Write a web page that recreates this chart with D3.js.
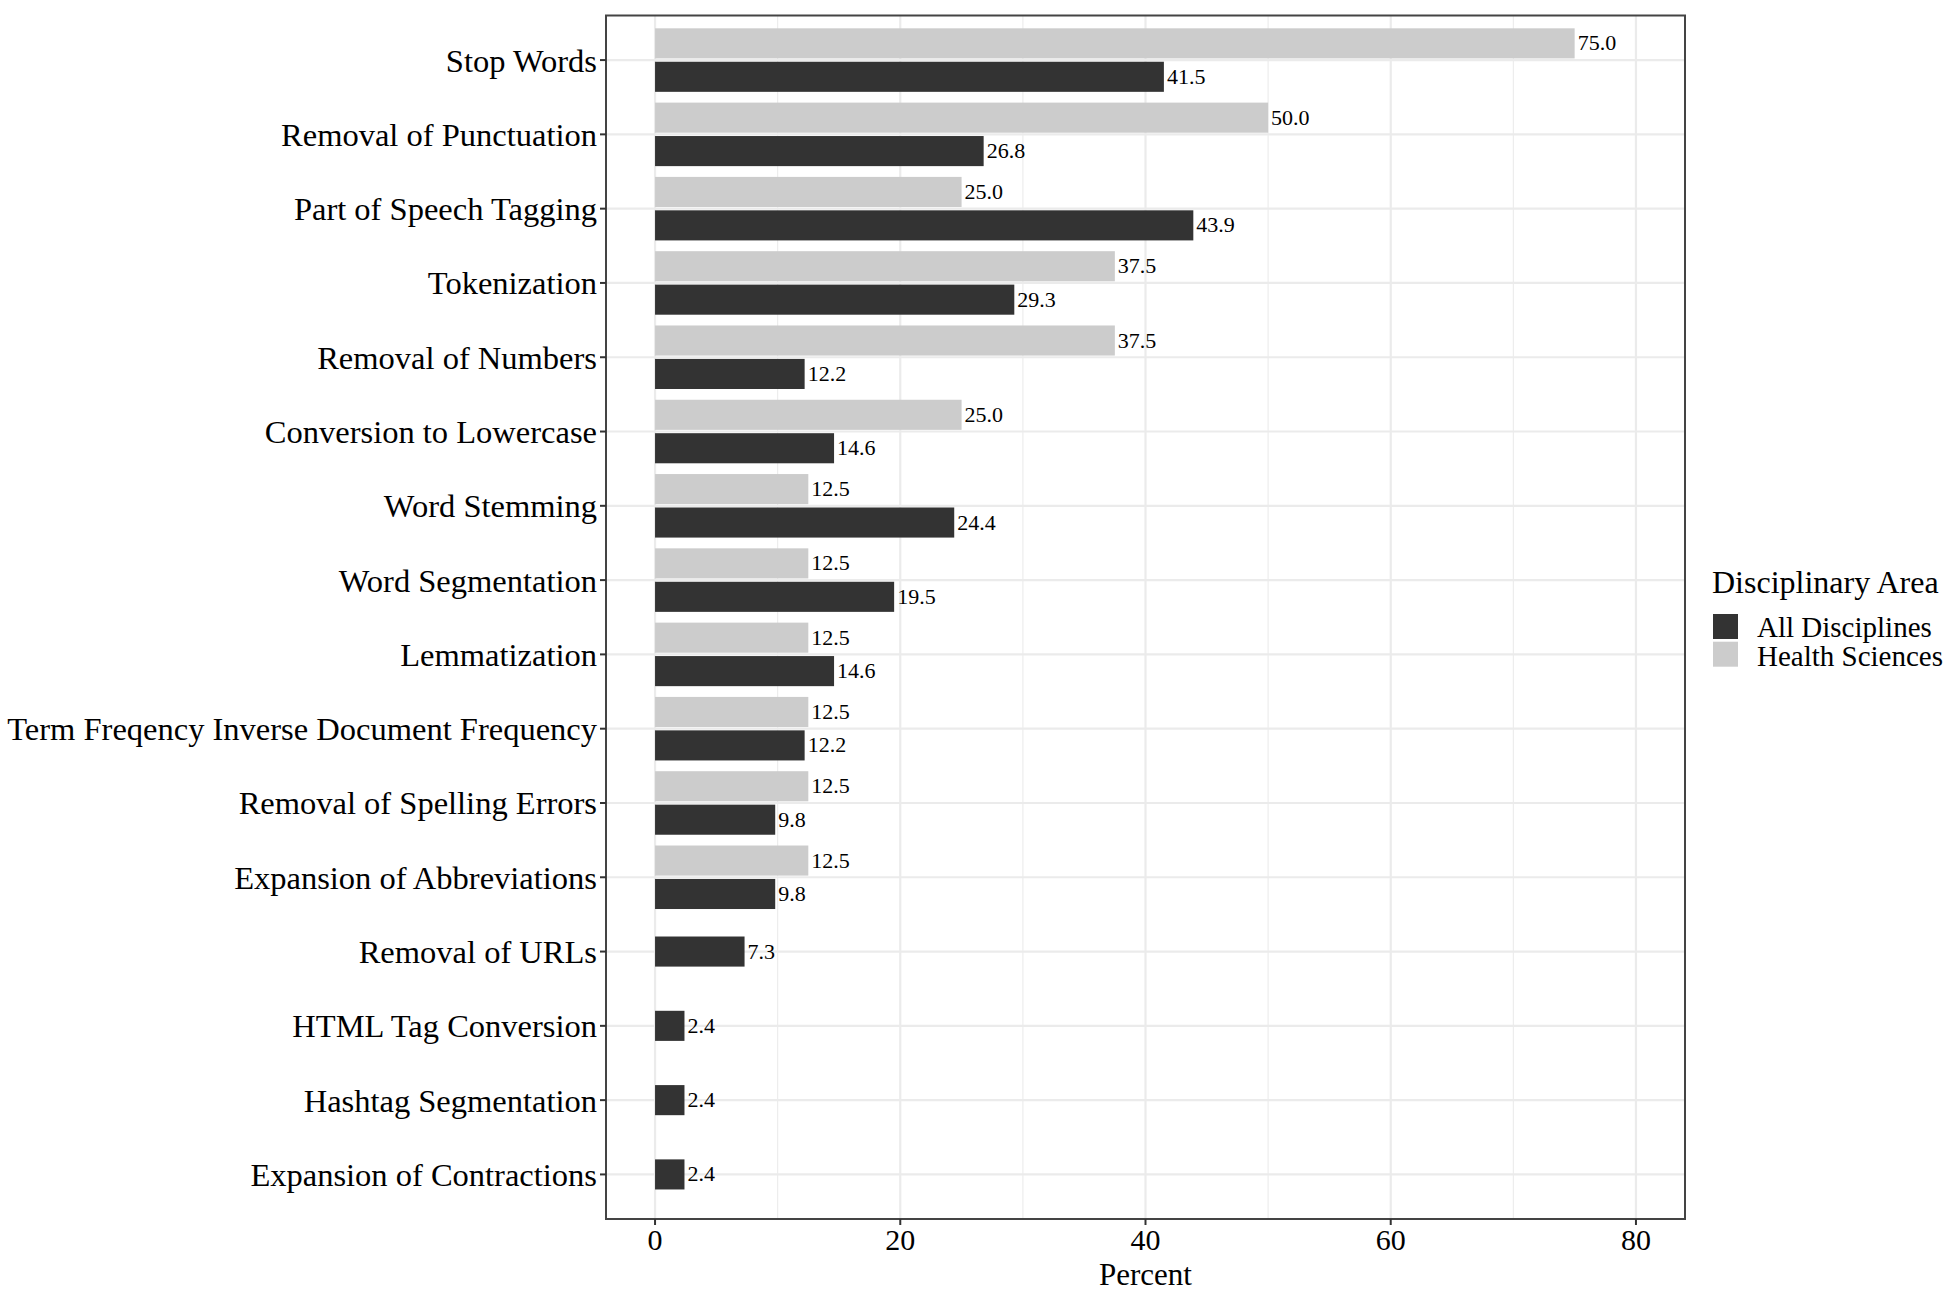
<!DOCTYPE html>
<html>
<head>
<meta charset="utf-8">
<script src="https://cdn.jsdelivr.net/npm/d3@7"></script>
<style>
  body { margin: 0; background: #fff; }
  text { font-family: "Liberation Serif", "DejaVu Serif", serif; fill: #000; }
</style>
</head>
<body>
<div id="chart"></div>
<script>
const categories = [
  "Stop Words",
  "Removal of Punctuation",
  "Part of Speech Tagging",
  "Tokenization",
  "Removal of Numbers",
  "Conversion to Lowercase",
  "Word Stemming",
  "Word Segmentation",
  "Lemmatization",
  "Term Freqency Inverse Document Frequency",
  "Removal of Spelling Errors",
  "Expansion of Abbreviations",
  "Removal of URLs",
  "HTML Tag Conversion",
  "Hashtag Segmentation",
  "Expansion of Contractions"
];
const allDisciplines = [41.5, 26.8, 43.9, 29.3, 12.2, 14.6, 24.4, 19.5, 14.6, 12.2, 9.8, 9.8, 7.3, 2.4, 2.4, 2.4];
const healthSciences = [75.0, 50.0, 25.0, 37.5, 37.5, 25.0, 12.5, 12.5, 12.5, 12.5, 12.5, 12.5, null, null, null, null];
const seriesNames = ["All Disciplines", "Health Sciences"];
const seriesColors = ["#333333", "#cccccc"];
const xTicks = [0, 20, 40, 60, 80];
const xMinor = [10, 30, 50, 70];

const WIDTH = 1951;
const HEIGHT = 1293;
const panel = { left: 606, right: 1685, top: 15.5, bottom: 1219 };

const svg = d3.select("#chart").append("svg")
  .attr("width", WIDTH)
  .attr("height", HEIGHT);

const x = d3.scaleLinear().domain([-4, 84]).range([panel.left, panel.right]);
const y = d3.scalePoint().domain(categories).range([panel.top, panel.bottom]).padding(0.6);
const step = y.step();
const barH = step * 0.405;
const off = step * 0.225;

// grid
const grid = svg.append("g");
grid.selectAll(".minor").data(xMinor).join("line")
  .attr("x1", d => x(d)).attr("x2", d => x(d))
  .attr("y1", panel.top).attr("y2", panel.bottom)
  .attr("stroke", "#ebebeb").attr("stroke-width", 1.1);
grid.selectAll(".majx").data(xTicks).join("line")
  .attr("x1", d => x(d)).attr("x2", d => x(d))
  .attr("y1", panel.top).attr("y2", panel.bottom)
  .attr("stroke", "#ebebeb").attr("stroke-width", 2.2);
grid.selectAll(".majy").data(categories).join("line")
  .attr("x1", panel.left).attr("x2", panel.right)
  .attr("y1", d => y(d)).attr("y2", d => y(d))
  .attr("stroke", "#ebebeb").attr("stroke-width", 2.2);

// bars: rows with both series get dodged, single ones sit centred
const rows = [];
categories.forEach((c, i) => {
  const both = healthSciences[i] != null;
  if (both) rows.push({ c, v: healthSciences[i], s: 1, dy: -off });
  rows.push({ c, v: allDisciplines[i], s: 0, dy: both ? off : 0 });
});

svg.append("g").selectAll("rect").data(rows).join("rect")
  .attr("x", x(0))
  .attr("y", d => y(d.c) + d.dy - barH / 2)
  .attr("width", d => x(d.v) - x(0))
  .attr("height", barH)
  .attr("fill", d => seriesColors[d.s]);

svg.append("g").selectAll("text").data(rows).join("text")
  .attr("x", d => x(d.v) + 3)
  .attr("y", d => y(d.c) + d.dy + 7)
  .attr("font-size", 22)
  .text(d => d.v.toFixed(1));

// panel border
svg.append("rect")
  .attr("x", panel.left).attr("y", panel.top)
  .attr("width", panel.right - panel.left).attr("height", panel.bottom - panel.top)
  .attr("fill", "none").attr("stroke", "#444").attr("stroke-width", 2);

// y axis
const yAxis = svg.append("g");
yAxis.selectAll("line").data(categories).join("line")
  .attr("x1", panel.left - 6).attr("x2", panel.left)
  .attr("y1", d => y(d)).attr("y2", d => y(d))
  .attr("stroke", "#333").attr("stroke-width", 2);
yAxis.selectAll("text").data(categories).join("text")
  .attr("x", panel.left - 9)
  .attr("y", d => y(d) + 11.5)
  .attr("text-anchor", "end")
  .attr("font-size", 32.5)
  .text(d => d);

// x axis
const xAxis = svg.append("g");
xAxis.selectAll("line").data(xTicks).join("line")
  .attr("x1", d => x(d)).attr("x2", d => x(d))
  .attr("y1", panel.bottom).attr("y2", panel.bottom + 6)
  .attr("stroke", "#333").attr("stroke-width", 2);
xAxis.selectAll("text").data(xTicks).join("text")
  .attr("x", d => x(d))
  .attr("y", panel.bottom + 31)
  .attr("text-anchor", "middle")
  .attr("font-size", 30)
  .text(d => d);

svg.append("text")
  .attr("x", (panel.left + panel.right) / 2)
  .attr("y", 1285)
  .attr("text-anchor", "middle")
  .attr("font-size", 31)
  .text("Percent");

// legend
const legend = svg.append("g").attr("transform", "translate(1712,0)");
legend.append("text")
  .attr("x", 0).attr("y", 593)
  .attr("font-size", 32)
  .text("Disciplinary Area");
legend.selectAll("rect").data(seriesNames).join("rect")
  .attr("x", 1)
  .attr("y", (d, i) => 614 + i * 27.7)
  .attr("width", 25).attr("height", 25)
  .attr("fill", (d, i) => seriesColors[i]);
legend.selectAll(".lab").data(seriesNames).join("text")
  .attr("class", "lab")
  .attr("x", 45)
  .attr("y", (d, i) => 637 + i * 29)
  .attr("font-size", 29)
  .text(d => d);
</script>
</body>
</html>
